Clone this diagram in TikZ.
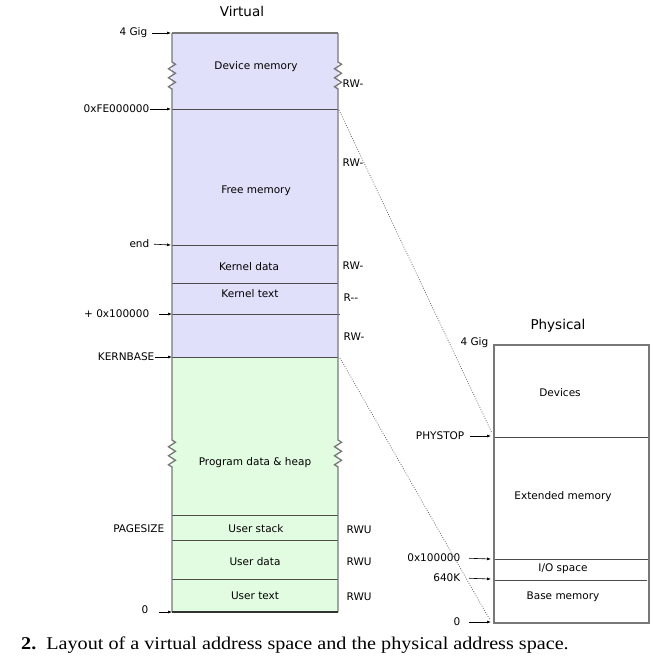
\documentclass[tikz,border=0pt]{standalone}
\usepackage{fontspec}
\setmainfont{DejaVu Sans}
\newfontfamily\capfont[FakeStretch=1.12]{Liberation Serif}
\usetikzlibrary{decorations.pathmorphing,arrows.meta}
\definecolor{vfill}{RGB}{224,224,250}
\definecolor{gfill}{RGB}{226,252,226}
\definecolor{edgec}{RGB}{120,120,120}
\begin{document}
\begin{tikzpicture}[x=1pt,y=-1pt,
  lbl/.style={font=\fontsize{10.5}{12}\selectfont, inner sep=0.5pt},
  ttl/.style={font=\fontsize{13.5}{15}\selectfont, inner sep=0pt},
  edge/.style={draw=edgec, line width=1.3pt},
  divl/.style={draw=black!70, line width=0.6pt},
  ptr/.style={-{Latex[length=4pt,width=3pt]}, line width=0.6pt},
  mapl/.style={dash pattern=on 0.8pt off 1.6pt, draw=black!60, line width=0.8pt},
  zz/.style={decorate, decoration={zigzag, segment length=9pt, amplitude=3.5pt}}
]
\useasboundingbox (0,0) rectangle (664,659);

% ---------- Virtual ----------
\node[ttl] (vtitle) at (242,11) {Virtual};
\fill[vfill] (172,33) rectangle (338,357);
\fill[gfill] (172,357) rectangle (338,612);

\draw[divl] (172,109) -- (338,109);
\draw[divl] (172,245) -- (338,245);
\draw[divl] (172,283) -- (338,283);
\draw[divl] (172,314) -- (340,314);
\draw[divl] (172,357) -- (338,357);
\draw[divl] (172,515) -- (338,515);
\draw[divl] (172,540) -- (338,540);
\draw[divl] (172,579) -- (338,579);

\draw[edge] (172,33) -- (338,33);
\draw[edge] (172,33) -- (172,62) decorate[zz]{-- (172,89)} -- (172,440) decorate[zz]{-- (172,467)} -- (172,612);
\draw[edge] (338,33) -- (338,62) decorate[zz]{-- (338,89)} -- (338,440) decorate[zz]{-- (338,467)} -- (338,612);
\draw[black!80, line width=1.4pt] (172,612) -- (338,612);

\node[lbl] (dev) at (256,67) {Device memory};
\node[lbl] (free) at (256,191) {Free memory};
\node[lbl] (kdata) at (249,267) {Kernel data};
\node[lbl] (ktext) at (250,294) {Kernel text};
\node[lbl] (heap) at (255,463) {Program data \& heap};
\node[lbl] (ustack) at (256,529) {User stack};
\node[lbl] (udata) at (255,562) {User data};
\node[lbl] (utext) at (255,596) {User text};

% left labels
\coordinate (v4g) at (171,33);
\coordinate (vfe) at (171,109);
\coordinate (vend) at (171,245);
\coordinate (vk1) at (172,314);
\coordinate (vkb) at (172,357);
\coordinate (v0) at (172,612);
\node[lbl, anchor=east] (l4g) at (148,33) {4 Gig};
\node[lbl, anchor=east] (lfe) at (150,109) {0xFE000000};
\node[lbl, anchor=east] (lend) at (150,244) {end};
\node[lbl, anchor=east] (lk1) at (150,314) {+ 0x100000};
\node[lbl, anchor=east] (lkb) at (155,357) {KERNBASE};
\node[lbl, anchor=east] (lps) at (165,529) {PAGESIZE};
\node[lbl, anchor=east] (l0) at (149,610) {0};
\draw[ptr, shorten <=4pt] (l4g.east) -- (v4g);
\draw[ptr] (lfe.east) -- (vfe);
\draw[ptr, shorten <=4pt] (lend.east) -- (vend);
\draw[ptr, shorten <=9pt] (lk1.east) -- (vk1);
\draw[ptr] (lkb.east) -- (vkb);
\draw[ptr, shorten <=10pt] (l0.east |- v0) -- (v0);

% right labels
\node[lbl, anchor=west] (r1) at (342,84) {RW{-}};
\node[lbl, anchor=west] (r2) at (342,163) {RW{-}};
\node[lbl, anchor=west] (r3) at (342,266) {RW{-}};
\node[lbl, anchor=west] (r4) at (343,298) {R{-}{-}};
\node[lbl, anchor=west] (r5) at (343,337) {RW{-}};
\node[lbl, anchor=west] (r6) at (346,530) {RWU};
\node[lbl, anchor=west] (r7) at (346,562) {RWU};
\node[lbl, anchor=west] (r8) at (346,597) {RWU};

% ---------- Physical ----------
\node[ttl] (ptitle) at (558,326) {Physical};
\draw[divl] (494,437) -- (649,437);
\draw[divl] (494,559) -- (649,559);
\draw[divl] (494,580) -- (647,580);
\draw[edge] (494,345) rectangle (649,623);

\node[lbl] (pdev) at (560,393) {Devices};
\node[lbl] (pext) at (563,497) {Extended memory};
\node[lbl] (pio) at (563,569) {I/O space};
\node[lbl] (pbase) at (563,597) {Base memory};

\coordinate (pphys) at (491,436);
\coordinate (pk1) at (491,559);
\coordinate (p640) at (491,579);
\coordinate (p0) at (491,622);
\node[lbl, anchor=east] (q4g) at (489,343) {4 Gig};
\node[lbl, anchor=east] (qphys) at (465,436) {PHYSTOP};
\node[lbl, anchor=east] (qk1) at (461,558) {0x100000};
\node[lbl, anchor=east] (q640) at (461,578) {640K};
\node[lbl, anchor=east] (q0) at (461,622) {0};
\draw[ptr, shorten <=5pt] (qphys.east) -- (pphys);
\draw[ptr, shorten <=8pt] (qk1.east) -- (pk1);
\draw[ptr, shorten <=8pt] (q640.east) -- (p640);
\draw[ptr, shorten <=8pt] (q0.east) -- (p0);

% mapping lines
\coordinate (mfe) at (339,110);
\coordinate (mkb) at (340,358);
\coordinate (mphys) at (492,433);
\coordinate (m0) at (490,620);
\draw[mapl] (mfe) -- (mphys);
\draw[mapl] (mkb) -- (m0);

% caption
\node[anchor=west, inner sep=0pt] (cap) at (21,645) {\capfont\fontsize{18}{20}\selectfont\textbf{2.}\ \ Layout of a virtual address space and the physical address space.};
\end{tikzpicture}
\end{document}
